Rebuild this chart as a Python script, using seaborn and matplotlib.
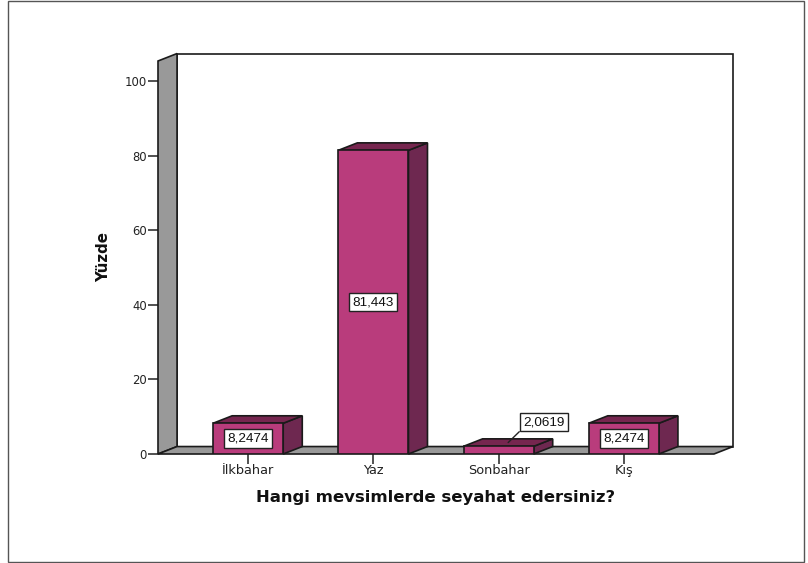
"""Bar chart with SPSS-style fake 3D depth, drawn on a seaborn barplot."""
import matplotlib
matplotlib.use("Agg")
import matplotlib.pyplot as plt
from matplotlib.patches import Polygon, Rectangle
import seaborn as sns
import pandas as pd

categories = ["İlkbahar", "Yaz", "Sonbahar", "Kış"]
percent = [8.2474, 81.443, 2.0619, 8.2474]
value_labels = ["8,2474", "81,443", "2,0619", "8,2474"]
y_ticks = [0, 20, 40, 60, 80, 100]

FRONT = "#B93C7C"
SIDE = "#6E2850"
TOP = "#76264F"
WALL = "#999999"
EDGE = "#1a1a1a"

# depth of the fake 3D box, in data units
DX = 0.152
DY = 2.0
X_LIM = (-0.72, 3.72)
Y_TOP = 105.4

sns.set_theme(style="white")
plt.rcParams["font.family"] = ["DejaVu Sans"]

W, H = 808, 563
fig = plt.figure(figsize=(W / 100, H / 100), dpi=100)
ax = fig.add_axes([158 / W, (H - 454) / H, 556 / W, (454 - 61) / H])

df = pd.DataFrame({"season": categories, "pct": percent})
sns.barplot(data=df, x="season", y="pct", color=FRONT, saturation=1, width=0.56,
            edgecolor=EDGE, linewidth=1.2, ax=ax, zorder=5)
ax.set_xlim(*X_LIM)
ax.set_ylim(0, Y_TOP)


def face(points, color, z, lw=1.2):
    ax.add_patch(Polygon(points, closed=True, facecolor=color, edgecolor=EDGE,
                         linewidth=lw, zorder=z, clip_on=False))


x0, x1 = X_LIM
# back wall, left wall, floor
face([(x0 + DX, DY), (x1 + DX, DY), (x1 + DX, Y_TOP + DY), (x0 + DX, Y_TOP + DY)], "white", 1)
face([(x0, 0), (x0 + DX, DY), (x0 + DX, Y_TOP + DY), (x0, Y_TOP)], WALL, 2)
face([(x0, 0), (x1, 0), (x1 + DX, DY), (x0 + DX, DY)], WALL, 2)

# side and top of each bar come from the bars seaborn drew
for bar in ax.patches[:len(categories)]:
    left, right = bar.get_x(), bar.get_x() + bar.get_width()
    h = bar.get_height()
    face([(right, 0), (right + DX, DY), (right + DX, h + DY), (right, h)], SIDE, 4)
    face([(left, h), (right, h), (right + DX, h + DY), (left + DX, h + DY)], TOP, 4)

box = dict(boxstyle="square,pad=0.24", facecolor="white", edgecolor="#222222", linewidth=1)
label_font = dict(fontsize=9.7, family=["Liberation Sans"], color="#111111")
for i, (val, label) in enumerate(zip(percent, value_labels)):
    if val < 3:
        # too short for the box, pull it out with a leader line
        ax.annotate(label, xy=(i + DX / 2, val + DY / 2), xytext=(i + 0.36, val + 6.5),
                    ha="center", va="center", bbox=box,
                    arrowprops=dict(arrowstyle="-", color="#222222", lw=1, shrinkA=0, shrinkB=0,
                                    relpos=(0, 0)),
                    zorder=8, annotation_clip=False, **label_font)
    else:
        ax.text(i, val / 2, label, ha="center", va="center", bbox=box, zorder=8, **label_font)

for side in ax.spines.values():
    side.set_visible(False)

ax.set_yticks(y_ticks)
ax.tick_params(axis="both", length=7, width=1.1, color="#222222", left=True, bottom=True,
               labelcolor="#222222")
ax.tick_params(axis="x", labelsize=9.3, pad=0)
ax.tick_params(axis="y", labelsize=8.4, pad=1)
ax.set_xlabel("Hangi mevsimlerde seyahat edersiniz?", fontsize=11.85, fontweight="bold",
              color="#111111", labelpad=9.5)
ax.set_ylabel("Yüzde", fontsize=10.8, fontweight="bold", color="#111111", labelpad=9.5)

# outer chart frame
fig.add_artist(Rectangle((7.5 / W, (H - 562) / H), 796 / W, 561 / H, transform=fig.transFigure,
                         fill=False, edgecolor="#555555", linewidth=1))

fig.savefig("out.png", dpi=100)
plt.close(fig)
